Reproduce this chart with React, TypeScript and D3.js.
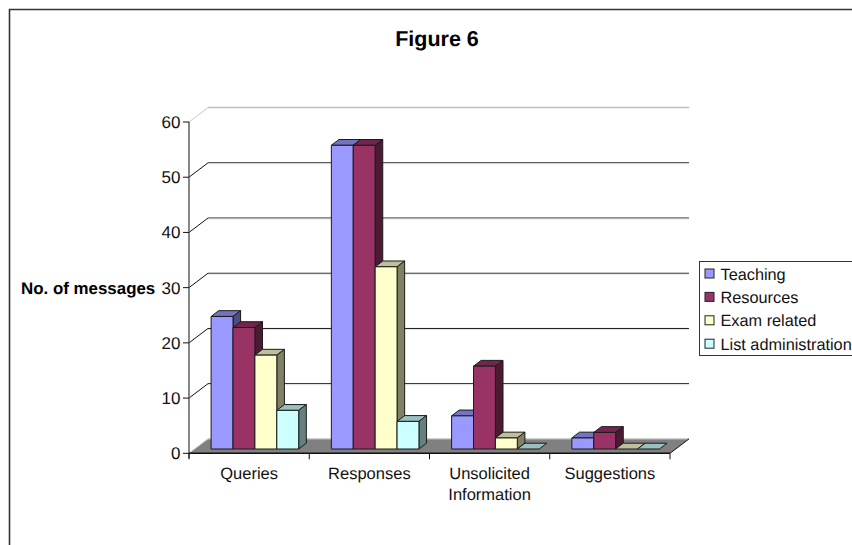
import React from "react";
import * as d3 from "d3";

const categories = ["Queries", "Responses", "Unsolicited Information", "Suggestions"];
const seriesNames = ["Teaching", "Resources", "Exam related", "List administration"];
const teaching = [24, 55, 6, 2];
const resources = [22, 55, 15, 3];
const examRelated = [17, 33, 2, 0];
const listAdministration = [7, 5, 0, 0];
const seriesValues = [teaching, resources, examRelated, listAdministration];
const seriesColors = ["#9999ff", "#993366", "#ffffcc", "#ccffff"];
const yTicks = [0, 10, 20, 30, 40, 50, 60];

const FONT = "'Liberation Sans', Arial, sans-serif";
const WALL_DX = 19;
const WALL_DY = -14.4;
const BAR_DX = 7.6;
const BAR_DY = -5.8;

const y = d3.scaleLinear().domain([0, 60]).range([453.3, 122]);
const xGroup = d3.scaleBand<string>().domain(categories).range([189, 670]);
const xSeries = d3
  .scaleBand<number>()
  .domain(d3.range(seriesNames.length))
  .range([16.4, 16.4 + 87.6]);

const mix = (hex: string, k: number) => d3.interpolateRgb(hex, "#000")(k);
const pts = (p: [number, number][]) => p.map((d) => d.join(",")).join(" ");

function Bar({ x, w, v, color }: { x: number; w: number; v: number; color: string }) {
  // Bars stand part-way into the floor's depth
  const x0 = x + 5.7;
  const base = y(0) - 4.3;
  const top = y(v) - 4.3;
  const stroke = "#1a1a1a";
  return (
    <g stroke={stroke} strokeWidth={1} strokeLinejoin="round">
      <polygon
        points={pts([[x0, top], [x0 + BAR_DX, top + BAR_DY], [x0 + w + BAR_DX, top + BAR_DY], [x0 + w, top]])}
        fill={mix(color, 0.25)}
      />
      {v > 0 && (
        <>
          <polygon
            points={pts([[x0 + w, top], [x0 + w + BAR_DX, top + BAR_DY], [x0 + w + BAR_DX, base + BAR_DY], [x0 + w, base]])}
            fill={mix(color, 0.5)}
          />
          <rect x={x0} y={top} width={w} height={base - top} fill={color} />
        </>
      )}
    </g>
  );
}

export default function App() {
  const y0 = y(0);
  const xl = 189;
  const xr = 670;
  const bottomTicks = [...categories.map((c) => xGroup(c) as number), xr];
  return (
    <svg
      width={852}
      height={545}
      style={{ position: "absolute", left: 0, top: 0, background: "#fff" }}
      fontFamily={FONT}
      textRendering="geometricPrecision"
    >
      <path d="M9.5,545 V9.5 H852" fill="none" stroke="#333" strokeWidth={1.6} />
      <text x={437} y={46} textAnchor="middle" fontSize={21.5} fontWeight="bold" fill="#000">
        Figure 6
      </text>

      {/* walls: gridlines run across the back and slope down the side */}
      {yTicks.map((t) => {
        const isTop = t === 60;
        if (t === 0) return null;
        const yb = y(t) + WALL_DY;
        return (
          <g key={t} fill="none">
            <line x1={xl} y1={y(t)} x2={xl + WALL_DX} y2={yb} stroke={isTop ? "#c8c8c8" : "#111"} strokeWidth={1} />
            <line x1={xl + WALL_DX} y1={yb} x2={xr + WALL_DX} y2={yb} stroke={isTop ? "#bdbdbd" : "#111"} strokeWidth={isTop ? 1.5 : 1} />
            {!isTop && <line x1={xl + WALL_DX} y1={yb + 1} x2={xr + WALL_DX} y2={yb + 1} stroke="#e4e4e4" strokeWidth={1} />}
          </g>
        );
      })}

      {/* floor */}
      <polygon
        points={pts([[xl, y0], [xr, y0], [xr + WALL_DX, y0 + WALL_DY], [xl + WALL_DX, y0 + WALL_DY]])}
        fill="#808080"
      />
      <line x1={xl + WALL_DX} y1={y0 + WALL_DY} x2={xr + WALL_DX} y2={y0 + WALL_DY} stroke="#c0c0c0" strokeWidth={1.2} />
      <line x1={xl} y1={y0} x2={xl + WALL_DX} y2={y0 + WALL_DY} stroke="#c0c0c0" strokeWidth={1} />
      <line x1={xr} y1={y0} x2={xr + WALL_DX} y2={y0 + WALL_DY} stroke="#111" strokeWidth={1} />

      {/* bars, back-to-front within each group */}
      {categories.map((c, ci) => (
        <g key={c}>
          {seriesValues.map((vals, si) => (
            <Bar
              key={si}
              x={(xGroup(c) as number) + (xSeries(si) as number)}
              w={xSeries.bandwidth()}
              v={vals[ci]}
              color={seriesColors[si]}
            />
          ))}
        </g>
      ))}

      {/* axes */}
      <line x1={xl} y1={y(60)} x2={xl} y2={y0 + 5} stroke="#555" strokeWidth={1.4} />
      <line x1={xl} y1={y0} x2={xr} y2={y0} stroke="#111" strokeWidth={1.4} />
      {yTicks.map((t) => (
        <g key={t}>
          <line x1={xl - 6} y1={y(t)} x2={xl} y2={y(t)} stroke="#111" strokeWidth={1} />
          <text x={xl - 8.5} y={y(t) + 6} textAnchor="end" fontSize={17} fill="#111">
            {t}
          </text>
        </g>
      ))}
      {bottomTicks.map((x) => (
        <line key={x} x1={x} y1={y0} x2={x} y2={y0 + 6} stroke="#111" strokeWidth={1} />
      ))}
      {categories.map((c) => {
        const cx = (xGroup(c) as number) + xGroup.bandwidth() / 2;
        const lines = c === "Unsolicited Information" ? c.split(" ") : [c];
        return (
          <text key={c} textAnchor="middle" fontSize={16.5} fill="#111">
            {lines.map((l, i) => (
              <tspan key={l} x={cx} y={479 + i * 21}>
                {l}
              </tspan>
            ))}
          </text>
        );
      })}
      <text x={21} y={293.5} fontSize={16.9} fontWeight="bold" fill="#000">
        No. of messages
      </text>

      {/* legend */}
      <rect x={699.5} y={261.5} width={160} height={94} fill="#fff" stroke="#333" strokeWidth={1} />
      {seriesNames.map((name, i) => (
        <g key={name}>
          <rect x={705} y={269 + i * 23.4} width={9} height={9} fill={seriesColors[i]} stroke="#222" strokeWidth={1} />
          <text x={720.5} y={279.5 + i * 23.4} fontSize={16.3} fill="#111">
            {name}
          </text>
        </g>
      ))}
    </svg>
  );
}
